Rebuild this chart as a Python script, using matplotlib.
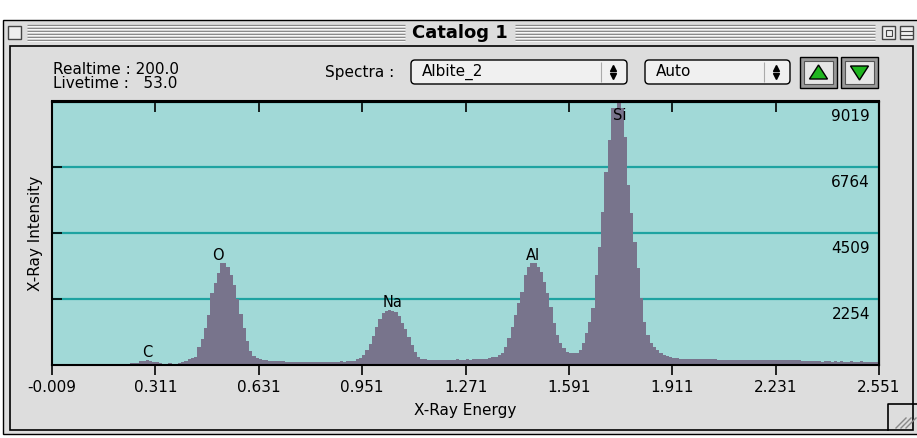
import matplotlib
matplotlib.use('Agg')
import matplotlib.pyplot as plt
from matplotlib.patches import Rectangle, FancyBboxPatch, Polygon

plt.rcParams['font.family'] = ['DejaVu Sans']
plt.rcParams['axes.unicode_minus'] = False

W, H = 917, 438

# spectrum: counts per 10 eV channel, first channel starts at -0.009 keV
CH_START = -0.009
CH_WIDTH = 0.01
counts = (
    [0] * 23
    + [20, 60, 80, 80, 130, 150, 160, 150, 100, 90, 60, 50, 50, 55, 50, 30, 60]
    + [100, 130, 200, 240, 280, 600, 900, 1270, 1710, 2450, 2800, 3150, 3500,
       3480, 3350, 3080, 2750, 2250, 1750, 1250, 820, 480, 300, 230, 200, 180]
    + [160, 150, 140, 130, 120, 120, 115, 110, 110, 105, 110, 100, 105, 110,
       100, 105, 110, 100, 110, 105, 110, 115, 110, 120, 115, 125]
    + [130, 150, 200, 240, 330, 500, 720, 1000, 1300, 1560, 1790, 1850, 1870,
       1860, 1800, 1680, 1450, 1230, 950, 680, 450, 290, 220, 190, 180]
    + [180, 175, 180, 185, 180, 175, 180, 185, 190, 180, 185, 190, 185, 190,
       195, 200, 205, 215, 230, 260, 290, 330]
    + [400, 620, 920, 1300, 1710, 2120, 2500, 3080, 3350, 3480, 3500, 3350,
       3180, 2840, 2460, 1980, 1440, 1030, 750, 580, 450]
    + [410, 400, 420, 500, 750, 1100, 1470, 1950, 3080, 4040, 5230, 6600, 7700,
       8790, 8800, 9019, 8790, 7800, 6160, 5200, 4200, 3320, 2290, 1470, 1030,
       750, 620, 510, 400, 340, 300, 270, 250, 230, 215, 205]
    + [200, 195, 195, 190, 200, 195, 190, 195, 200, 190, 185,
       175, 170, 170, 175, 170, 165, 170, 175, 170, 165, 170, 170, 165, 170,
       175, 165, 170, 165, 170, 160, 165, 170, 160, 165, 160, 150,
       130, 125, 120, 120, 125, 115, 120, 120, 110, 120, 115, 120, 110, 115,
       120, 115, 110, 120, 115, 110, 115, 110, 115]
)

peak_names = ['C', 'O', 'Na', 'Al', 'Si']
peak_energy = [0.285, 0.505, 1.044, 1.480, 1.750]

x_ticks = [-0.009, 0.311, 0.631, 0.951, 1.271, 1.591, 1.911, 2.231, 2.551]
x_labels = ['-0.009', '0.311', '0.631', '0.951', '1.271', '1.591', '1.911',
            '2.231', '2.551']
y_ticks = [2254, 4509, 6764, 9019]
y_max = 9019

realtime = '200.0'
livetime = '53.0'
spectrum_name = 'Albite_2'
scale_mode = 'Auto'

BG = '#dddddd'
PLOT_BG = '#a1d9d7'
GRID = '#1ea3a1'
FILL = '#78748c'

fig = plt.figure(figsize=(W / 100, H / 100), dpi=100)
fig.patch.set_facecolor('white')

# ---- window chrome (pixel coordinates, y down) ----
ch = fig.add_axes([0, 0, 1, 1])
ch.set_xlim(0, W)
ch.set_ylim(H, 0)
ch.axis('off')

ch.add_patch(Rectangle((3, 20), W, 414, facecolor=BG, edgecolor='black', lw=1))
# title bar stripes
for yy in range(25, 42, 3):
    ch.hlines(yy, 27, 405, color='#8a8a8a', lw=0.9)
    ch.hlines(yy, 515, 875, color='#8a8a8a', lw=0.9)
    ch.hlines(yy + 1, 27, 405, color='white', lw=0.6)
    ch.hlines(yy + 1, 515, 875, color='white', lw=0.6)
ch.text(460, 33, 'Catalog 1', ha='center', va='center', fontsize=13,
        fontweight='bold')
# close / zoom / collapse boxes
ch.add_patch(Rectangle((8, 26), 13, 13, facecolor='#eeeeee', edgecolor='#444444', lw=1))
ch.add_patch(Rectangle((882, 26), 13, 13, facecolor='#eeeeee', edgecolor='#444444', lw=1))
ch.add_patch(Rectangle((886, 30), 6, 6, facecolor='none', edgecolor='#444444', lw=0.8))
ch.add_patch(Rectangle((900, 26), 13, 13, facecolor='#eeeeee', edgecolor='#444444', lw=1))
ch.hlines([31, 35], 900, 913, color='#444444', lw=0.8)
# content frame
ch.add_patch(Rectangle((10, 46), 903, 384, facecolor=BG, edgecolor='black', lw=1.2))
# size box
ch.plot([888, 888, W], [430, 404, 404], color='black', lw=1.2)
for k in range(3):
    ch.plot([896 + 5 * k, 906 + 5 * k], [428, 418], color='#888888', lw=1)

# header texts and controls
ch.text(53, 70, f'Realtime : {realtime}', fontsize=11, va='center')
ch.text(53, 84, f'Livetime :   {livetime}', fontsize=11, va='center')
ch.text(325, 72, 'Spectra :', fontsize=11, va='center')

for x0, x1, label in [(411, 627, spectrum_name), (645, 790, scale_mode)]:
    ch.add_patch(FancyBboxPatch((x0, 60), x1 - x0, 24, boxstyle='round,pad=0,rounding_size=4',
                                facecolor='#f0f0f0', edgecolor='black', lw=1))
    ch.text(x0 + 11, 72, label, fontsize=11, va='center')
    ch.vlines(x1 - 26, 62, 82, color='#aaaaaa', lw=0.8)
    ch.plot([x1 - 14], [68], marker='^', ms=4, color='black')
    ch.plot([x1 - 14], [76], marker='v', ms=4, color='black')

for x0, up in [(800, True), (841, False)]:
    ch.add_patch(Rectangle((x0, 57), 37, 31, facecolor='#999999', edgecolor='black', lw=1))
    ch.add_patch(Rectangle((x0 + 4, 61), 29, 23, facecolor='#e6e6e6', edgecolor='#555555', lw=0.8))
    cx = x0 + 18.5
    if up:
        tri = [(cx - 9, 79), (cx + 9, 79), (cx, 65)]
    else:
        tri = [(cx - 9, 66), (cx + 9, 66), (cx, 80)]
    ch.add_patch(Polygon(tri, closed=True, facecolor='#1fb51f', edgecolor='black', lw=1))

# ---- spectrum plot ----
ax = fig.add_axes([52 / W, (H - 365) / H, 827 / W, 263.5 / H])
ax.set_facecolor(PLOT_BG)
edges = [CH_START + CH_WIDTH * i for i in range(len(counts) + 1)]
ax.stairs(counts, edges, fill=True, color=FILL, lw=0, zorder=1)
ax.set_xlim(x_ticks[0], x_ticks[-1])
ax.set_ylim(0, y_max)
ax.set_axisbelow(True)

ax.set_yticks(y_ticks)
ax.yaxis.grid(True, color=GRID, lw=1.6)
ax.tick_params(axis='y', direction='in', length=7, width=1.2, labelleft=False)
ax.set_xticks(x_ticks)
ax.set_xticklabels(x_labels)
ax.tick_params(axis='x', direction='out', length=7, width=1.2, pad=4, labelsize=11)
for s in ax.spines.values():
    s.set_linewidth(1.5)

secx = ax.secondary_xaxis('top')
secx.set_xticks(x_ticks[1:-1])
secx.tick_params(direction='in', length=8, width=1.2, labeltop=False)
secx.spines['top'].set_linewidth(1.5)
secy = ax.secondary_yaxis('right')
secy.set_yticks(y_ticks)
secy.tick_params(direction='in', length=10, width=1.2, labelright=False)
secy.spines['right'].set_linewidth(1.5)

for v in y_ticks:
    ax.annotate(str(v), xy=(1, v), xycoords=ax.get_yaxis_transform(),
                xytext=(-6.5, -11), textcoords='offset points',
                ha='right', va='center', fontsize=11)

for name, e in zip(peak_names, peak_energy):
    i = int((e - CH_START) / CH_WIDTH)
    top = max(counts[i - 2:i + 3])
    ax.text(e, min(top, y_max * 0.92), name, ha='center', va='bottom', fontsize=10.5)

ax.set_xlabel('X-Ray Energy', fontsize=11)
ax.xaxis.set_label_coords(0.5, -0.145)
ax.set_ylabel('X-Ray Intensity', fontsize=11)
ax.yaxis.set_label_coords(-0.011, 0.5)

fig.savefig('out.png', dpi=100, facecolor=fig.get_facecolor())
